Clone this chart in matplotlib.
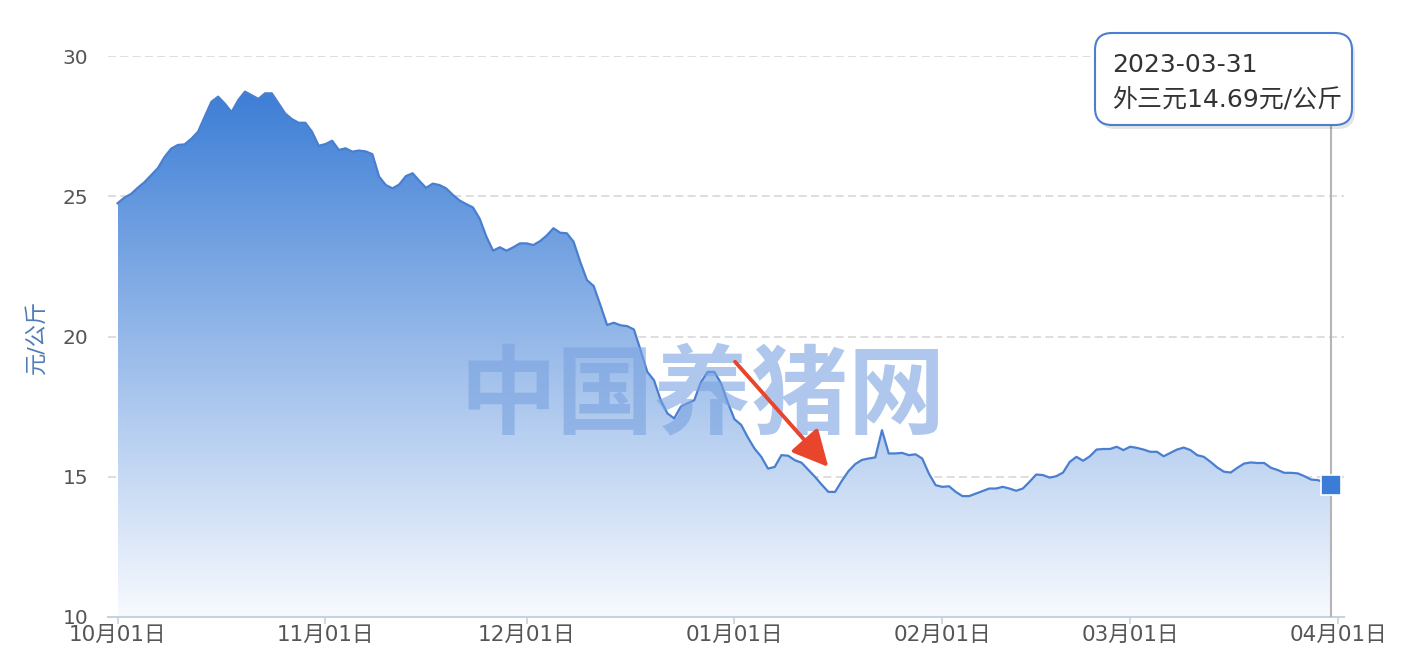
import numpy as np
import pandas as pd
import matplotlib
matplotlib.use('Agg')
import matplotlib.pyplot as plt
import matplotlib.dates as mdates
from matplotlib.colors import LinearSegmentedColormap
from matplotlib.patches import FancyBboxPatch
from matplotlib.transforms import IdentityTransform

plt.rcParams['font.family'] = ['DejaVu Sans', 'Noto Sans CJK SC']

# daily price of 外三元 pigs, yuan/kg, 2022-10-01 .. 2023-03-31
oct_prices = [24.75, 24.95, 25.08, 25.3, 25.5, 25.75, 26.0, 26.4, 26.7, 26.83,
              26.85, 27.05, 27.3, 27.84, 28.37, 28.55, 28.3, 28.0, 28.43, 28.73,
              28.6, 28.47, 28.67, 28.67, 28.31, 27.95, 27.75, 27.62, 27.62, 27.3, 26.8]
nov_prices = [26.86, 26.98, 26.65, 26.71, 26.59, 26.63, 26.6, 26.5, 25.7, 25.4,
              25.28, 25.42, 25.72, 25.82, 25.55, 25.3, 25.45, 25.4, 25.28, 25.05,
              24.85, 24.72, 24.6, 24.2, 23.56, 23.06, 23.18, 23.06, 23.18, 23.32]
dec_prices = [23.32, 23.26, 23.4, 23.6, 23.86, 23.7, 23.68, 23.38, 22.66, 22.01,
              21.8, 21.12, 20.41, 20.49, 20.4, 20.37, 20.25, 19.51, 18.74, 18.44,
              17.73, 17.26, 17.08, 17.5, 17.62, 17.73, 18.38, 18.74, 18.74, 18.33, 17.65]
jan_prices = [17.05, 16.85, 16.4, 16.0, 15.71, 15.29, 15.35, 15.77, 15.75, 15.59,
              15.5, 15.25, 15.0, 14.72, 14.46, 14.46, 14.85, 15.2, 15.45, 15.6,
              15.65, 15.69, 16.66, 15.83, 15.83, 15.85, 15.77, 15.8, 15.65, 15.11, 14.7]
feb_prices = [14.64, 14.66, 14.46, 14.31, 14.31, 14.4, 14.49, 14.58, 14.58, 14.64,
              14.58, 14.5, 14.58, 14.82, 15.08, 15.06, 14.97, 15.02, 15.15, 15.53,
              15.71, 15.57, 15.73, 15.97, 15.99, 15.99, 16.07, 15.95]
mar_prices = [16.07, 16.03, 15.97, 15.89, 15.89, 15.73, 15.85, 15.97, 16.04, 15.95,
              15.77, 15.71, 15.53, 15.33, 15.18, 15.15, 15.32, 15.47, 15.51, 15.49,
              15.49, 15.32, 15.24, 15.14, 15.14, 15.12, 15.02, 14.9, 14.88, 14.8, 14.69]

prices = oct_prices + nov_prices + dec_prices + jan_prices + feb_prices + mar_prices
dates = pd.date_range('2022-10-01', periods=len(prices), freq='D')

month_ticks = pd.date_range('2022-10-01', '2023-04-01', freq='MS')
tick_labels = [f'{d.month:02d}月{d.day:02d}日' for d in month_ticks]
y_ticks = [10, 15, 20, 25, 30]

tip_date = '2023-03-31'
tip_text = '外三元14.69元/公斤'

# red annotation arrow (date, value)
arrow_from = (pd.Timestamp('2023-01-01 02:00'), 19.1)
arrow_to = (pd.Timestamp('2023-01-15 00:00'), 15.35)

line_color = '#4a7fd0'

fig = plt.figure(figsize=(14.2, 6.7), dpi=100)
ax = fig.add_axes([108 / 1420, 53 / 670, 1236 / 1420, 561 / 670])

xn = mdates.date2num(dates)

# gradient area under the line
cmap = LinearSegmentedColormap.from_list('fade', ['#f8fafe', '#3d7ed6'])
poly = ax.fill_between(xn, prices, 10, color='none', lw=0)
grad = np.linspace(0, 1, 256).reshape(-1, 1)
im = ax.imshow(grad, extent=[xn[0], xn[-1], 10, max(prices)], origin='lower',
               cmap=cmap, aspect='auto', zorder=1)
im.set_clip_path(poly.get_paths()[0], transform=ax.transData)

ax.plot(xn, prices, color=line_color, lw=1.6, zorder=3)

for y in y_ticks[1:]:
    ax.axhline(y, color='#d8d8d8', lw=1.2, ls=(0, (4.8, 2.6)), zorder=0.5)

ax.set_xlim(xn[0] - 1.43, mdates.date2num(pd.Timestamp('2023-04-01')) + 0.9)
ax.set_ylim(10, 30)
ax.set_xticks(mdates.date2num(month_ticks))
ax.set_xticklabels(tick_labels)
ax.set_yticks(y_ticks)

for s in ['top', 'right', 'left']:
    ax.spines[s].set_visible(False)
ax.spines['bottom'].set_color('#c6d2de')
ax.spines['bottom'].set_linewidth(1.5)
ax.tick_params(axis='x', length=5, width=1.2, color='#c6d2de',
               labelsize=15.5, labelcolor='#555555', pad=1)
ax.tick_params(axis='y', length=0, pad=14, labelsize=14.5, labelcolor='#555555')
ax.set_ylabel('元/公斤', color='#4f7cb6', fontsize=16)
ax.yaxis.set_label_coords(-0.050, 0.5)

# watermark
ax.text(0.481, 0.392, '中国养猪网', transform=ax.transAxes, fontsize=70,
        fontweight='bold', color='#7aa3e0', alpha=0.6, ha='center', va='center',
        family='Noto Sans CJK SC', zorder=4)

ax.annotate('', xy=(mdates.date2num(arrow_to[0]), arrow_to[1]),
            xytext=(mdates.date2num(arrow_from[0]), arrow_from[1]),
            arrowprops=dict(arrowstyle='-|>,head_length=1.1,head_width=0.55',
                            mutation_scale=20, color='#e8452c', lw=2.8,
                            shrinkA=0, shrinkB=0), zorder=6)

# hover cursor + last point
ax.axvline(mdates.date2num(pd.Timestamp(tip_date)), ymax=0.877, color='#b5b5b5', lw=1.5, zorder=4)
ax.plot(xn[-1], prices[-1], marker='s', ms=14.5, mfc='#3b7dd6', mec='white', mew=1.2,
        zorder=7, clip_on=False)

# tooltip box
shadow = FancyBboxPatch((1098, 670 - 129), 257, 92, boxstyle='round,pad=0,rounding_size=17',
                        transform=IdentityTransform(), facecolor='black', alpha=0.10,
                        edgecolor='none', zorder=8)
box = FancyBboxPatch((1095, 670 - 125), 257, 92, boxstyle='round,pad=0,rounding_size=17',
                     transform=IdentityTransform(), facecolor='white', edgecolor=line_color,
                     lw=1.5, zorder=9)
fig.add_artist(shadow)
fig.add_artist(box)
fig.text(1112 / 1420, 1 - 65 / 670, tip_date, fontsize=18, color='#333333',
         ha='left', va='center', zorder=10)
fig.text(1112 / 1420, 1 - 100 / 670, tip_text, fontsize=18, color='#333333',
         ha='left', va='center', zorder=10)

fig.savefig('out.png', dpi=100)
